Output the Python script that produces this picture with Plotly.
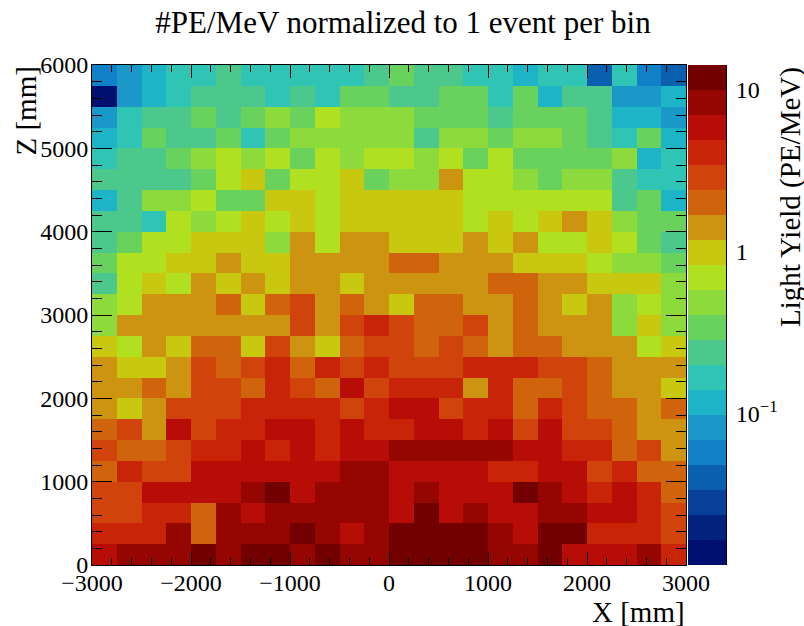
import numpy as np
import plotly.graph_objects as go

# Light yield of each colour band (PE/MeV), low to high
band_yield = [0.0138, 0.0198, 0.0282, 0.0402, 0.0574, 0.0818, 0.117, 0.167, 0.238, 0.339,
              0.484, 0.691, 0.986, 1.41, 2.01, 2.86, 4.08, 5.83, 8.32, 11.9]
band_colors = ["#010F6F", "#04237F", "#08409A", "#0A5FAF", "#1080C8", "#1A98C8", "#1EB4C8",
               "#30C4B4", "#4CC88C", "#68D25C", "#8CDA3C", "#B0E020", "#C8C810", "#CC9410",
               "#D0640C", "#D0440C", "#C82408", "#B80C06", "#960600", "#720000"]

x_centers = [-2875 + 250 * i for i in range(24)]
z_centers = [5875 - 250 * i for i in range(24)]

# Colour band of each bin, top row (Z near 6000) first
cell_bands = [
    [4, 5, 6, 7, 7, 8, 7, 7, 7, 7, 7, 8, 9, 8, 8, 7, 7, 6, 7, 7, 3, 7, 4, 3],
    [0, 5, 6, 7, 8, 8, 8, 7, 8, 7, 9, 9, 8, 8, 9, 9, 7, 9, 6, 8, 8, 5, 5, 6],
    [5, 7, 8, 8, 9, 8, 9, 10, 9, 11, 10, 10, 10, 9, 9, 9, 8, 9, 9, 9, 8, 6, 6, 5],
    [6, 7, 9, 8, 8, 9, 7, 9, 10, 10, 10, 10, 10, 8, 10, 10, 9, 10, 10, 9, 8, 7, 9, 6],
    [7, 8, 8, 9, 10, 11, 10, 11, 9, 11, 10, 11, 11, 10, 11, 9, 11, 9, 9, 9, 9, 10, 6, 7],
    [8, 8, 8, 8, 9, 11, 12, 9, 11, 11, 12, 9, 10, 10, 13, 11, 11, 10, 9, 10, 10, 8, 7, 7],
    [6, 8, 10, 10, 11, 9, 9, 12, 12, 11, 12, 12, 12, 12, 12, 11, 11, 11, 11, 11, 11, 8, 9, 6],
    [8, 8, 7, 11, 10, 11, 12, 11, 12, 11, 12, 12, 12, 12, 12, 11, 12, 11, 12, 13, 12, 10, 9, 9],
    [8, 9, 11, 11, 12, 12, 12, 10, 13, 11, 13, 13, 12, 12, 12, 13, 12, 13, 11, 11, 12, 11, 9, 8],
    [9, 11, 11, 12, 12, 13, 12, 12, 13, 13, 13, 13, 14, 14, 13, 13, 13, 12, 12, 12, 11, 10, 10, 9],
    [8, 11, 12, 11, 13, 12, 13, 12, 13, 13, 12, 13, 13, 13, 13, 13, 14, 14, 13, 13, 12, 12, 12, 10],
    [10, 11, 13, 13, 13, 14, 12, 14, 15, 13, 14, 13, 12, 14, 14, 13, 13, 14, 13, 12, 13, 10, 11, 10],
    [10, 13, 13, 13, 13, 13, 13, 13, 15, 13, 15, 16, 15, 14, 14, 15, 13, 14, 13, 13, 13, 10, 12, 10],
    [12, 11, 13, 12, 14, 14, 12, 15, 13, 12, 14, 15, 15, 14, 15, 14, 13, 14, 14, 13, 13, 13, 11, 12],
    [13, 12, 12, 13, 15, 14, 15, 16, 14, 16, 15, 16, 15, 15, 15, 16, 16, 16, 15, 15, 14, 13, 13, 13],
    [13, 13, 14, 13, 15, 15, 14, 16, 15, 14, 17, 15, 16, 16, 16, 13, 16, 14, 14, 15, 14, 13, 13, 12],
    [13, 12, 13, 15, 15, 15, 16, 16, 16, 16, 15, 16, 17, 17, 15, 16, 16, 14, 16, 15, 14, 14, 13, 14],
    [14, 15, 13, 17, 15, 16, 16, 17, 17, 16, 17, 16, 16, 17, 17, 16, 17, 15, 17, 15, 15, 14, 13, 13],
    [15, 14, 14, 15, 16, 16, 17, 16, 17, 16, 17, 17, 18, 18, 18, 18, 18, 17, 17, 16, 16, 14, 15, 13],
    [14, 16, 15, 15, 17, 17, 17, 17, 17, 17, 18, 18, 17, 17, 17, 17, 16, 16, 17, 17, 15, 16, 14, 14],
    [15, 15, 17, 17, 17, 17, 18, 19, 17, 18, 18, 18, 17, 18, 17, 17, 17, 19, 18, 17, 16, 17, 16, 14],
    [15, 15, 16, 16, 14, 18, 17, 18, 18, 18, 18, 18, 17, 19, 17, 18, 17, 17, 18, 18, 17, 17, 16, 15],
    [16, 16, 16, 18, 14, 18, 18, 18, 19, 18, 17, 18, 19, 19, 19, 19, 18, 17, 19, 19, 16, 16, 16, 15],
    [17, 18, 18, 18, 19, 18, 19, 19, 18, 19, 18, 18, 19, 19, 19, 19, 18, 18, 19, 17, 17, 17, 18, 16],
]

cb_major = [0.1, 1, 10]
cb_labels = ["10<sup>\u22121</sup>", "1", "10"]
cb_minor = [0.02, 0.03, 0.04, 0.05, 0.06, 0.07, 0.08, 0.09,
            0.2, 0.3, 0.4, 0.5, 0.6, 0.7, 0.8, 0.9,
            2, 3, 4, 5, 6, 7, 8, 9]
LOG_MIN, LOG_MAX = -1.936, 1.151
FONT = "Liberation Serif"

yields = [[band_yield[b] for b in row] for row in cell_bands]
n = len(band_colors)
scale = []
for i, c in enumerate(band_colors):
    scale += [[i / n, c], [(i + 1) / n, c]]

W, H = 804, 626
L, R, T, B = 92, 726, 65, 565
PW = R - L
PH = B - T
frame_right = 686

fig = go.Figure()
fig.add_trace(go.Heatmap(
    x=x_centers, y=z_centers, z=np.log10(np.array(yields)).tolist(),
    zmin=LOG_MIN, zmax=LOG_MAX, colorscale=scale, zsmooth=False,
    colorbar=dict(x=(688 - L) / PW, xanchor="left", xpad=0, ypad=0,
                  y=0, yanchor="bottom", len=1, lenmode="fraction",
                  thickness=38, thicknessmode="pixels",
                  ticks="", showticklabels=False, outlinewidth=0),
    hovertemplate="X %{x}<br>Z %{y}<extra></extra>",
))
fig.add_trace(go.Scatter(
    x=[0, 1], y=[10 ** LOG_MIN, 10 ** LOG_MAX], xaxis="x2", yaxis="y2",
    mode="markers", marker=dict(opacity=0), showlegend=False, hoverinfo="skip",
))

fig.update_layout(
    width=W, height=H, paper_bgcolor="white", plot_bgcolor="white",
    margin=dict(l=L, r=W - R, t=T, b=H - B, pad=0),
    font=dict(family=FONT, color="black", size=24),
    title=dict(text="#PE/MeV normalized to 1 event per bin", x=403 / W, xanchor="center",
               y=1 - 22 / H, yanchor="middle", font=dict(size=31, family=FONT)),
    xaxis=dict(domain=[0, (frame_right - L) / PW], range=[-3000, 3000], tick0=-3000, dtick=1000,
               ticks="inside", ticklen=13, tickwidth=1, tickcolor="black",
               showline=True, linecolor="black", linewidth=1, mirror="allticks",
               showgrid=False, zeroline=False, tickfont=dict(size=24), ticklabelstandoff=-4,
               minor=dict(ticks="inside", ticklen=7, tickwidth=1, tickcolor="black",
                          dtick=200, tick0=-3000, showgrid=False)),
    yaxis=dict(range=[0, 6000], tick0=0, dtick=1000,
               ticks="inside", ticklen=20, tickwidth=1, tickcolor="black",
               showline=True, linecolor="black", linewidth=1, mirror="allticks",
               showgrid=False, zeroline=False, tickfont=dict(size=24), ticklabelstandoff=-2,
               minor=dict(ticks="inside", ticklen=10, tickwidth=1, tickcolor="black",
                          dtick=200, tick0=0, showgrid=False)),
    xaxis2=dict(domain=[(688 - L) / PW, 1], range=[0, 1], visible=False, anchor="y2"),
    yaxis2=dict(type="log", range=[LOG_MIN, LOG_MAX], anchor="x2", side="right",
                tickmode="array", tickvals=cb_major, ticktext=cb_labels,
                ticks="inside", ticklen=19, tickwidth=1, tickcolor="black",
                showline=True, linecolor="black", linewidth=1,
                showgrid=False, zeroline=False, tickfont=dict(size=24), ticklabelstandoff=4,
                minor=dict(ticks="inside", ticklen=10, tickwidth=1, tickcolor="black",
                           tickmode="array", tickvals=cb_minor, showgrid=False)),
    annotations=[
        dict(text="X [mm]", xref="paper", yref="paper", x=(frame_right + 1 - L) / PW, y=-(612 - B) / PH,
             xanchor="right", yanchor="middle", showarrow=False, font=dict(size=29)),
        dict(text="Z [mm]", xref="paper", yref="paper", x=-(92 - 25) / PW, y=1.0,
             xanchor="center", yanchor="top", textangle=-90, showarrow=False, font=dict(size=29)),
        dict(text="Light Yield (PE/MeV)", xref="paper", yref="paper", x=(790 - L) / PW, y=1.0,
             xanchor="center", yanchor="top", textangle=-90, showarrow=False, font=dict(size=29)),
    ],
)
fig.write_html("out.html", config={"displayModeBar": False},
               post_script="document.body.style.margin='0';")
